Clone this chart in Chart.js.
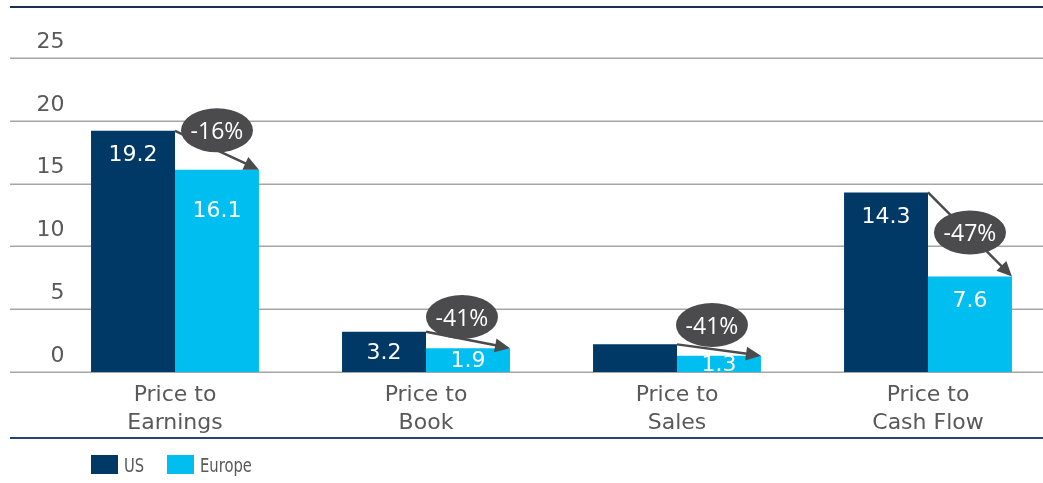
<!DOCTYPE html>
<html>
<head>
<meta charset="utf-8">
<script src="https://cdn.jsdelivr.net/npm/chart.js@4.4.1/dist/chart.umd.min.js"></script>
<style>
  html, body { margin: 0; padding: 0; background: #ffffff; overflow: hidden; }
  #wrap { position: relative; width: 1043px; height: 483px; }
  #chart { position: absolute; left: 0; top: 0; }
  .leg { position: absolute; top: 455px; display: flex; align-items: center; height: 19px;
         font-family: "Liberation Sans Narrow", "DejaVu Sans Condensed", "Liberation Sans", sans-serif;
         font-size: 20px; color: #595959; }
  .leg .box { width: 27px; height: 19px; margin-right: 6px; flex: none; }
  .leg .txt { display: inline-block; transform: scaleX(0.82); transform-origin: left center; }
</style>
</head>
<body>
<div id="wrap">
  <canvas id="chart" width="1043" height="483"></canvas>
  <div class="leg" style="left:91px"><span class="box" style="background:#003966"></span><span class="txt">US</span></div>
  <div class="leg" style="left:167px"><span class="box" style="background:#00BEF0"></span><span class="txt">Europe</span></div>
</div>
<script>
// ---- data ----
const categories = [["Price to", "Earnings"], ["Price to", "Book"], ["Price to", "Sales"], ["Price to", "Cash Flow"]];
const seriesNames = ["US", "Europe"];
const usValues = [19.2, 3.2, 2.2, 14.3];
const europeValues = [16.1, 1.9, 1.3, 7.6];
const usLabels = ["19.2", "3.2", null, "14.3"];
const europeLabels = ["16.1", "1.9", "1.3", "7.6"];
const changeLabels = ["-16%", "-41%", "-41%", "-47%"];
const yTicks = [0, 5, 10, 15, 20, 25];

// ---- styles / annotation placement ----
const NAVY = "#003966";
const CYAN = "#00BEF0";
const GREY_TXT = "#595959";
const FONT = "'DejaVu Sans', 'Open Sans', sans-serif";
const BUBBLE_FONT = "'Open Sans', 'DejaVu Sans', sans-serif";
const BUBBLE_OFFSETS = [{ dx: 0, dy: -18 }, { dx: -6, dy: -21 }, { dx: -7, dy: -23 }, { dx: 0, dy: 0 }];
const LABEL_SHIFT_US = [0, 0, 0, 0];
const LABEL_SHIFT_EU = [17, 0, 0, 0];

const decor = {
  id: "decor",
  beforeDatasetsDraw(chart) {
    const ctx = chart.ctx, y = chart.scales.y, W = chart.width;
    ctx.save();
    ctx.strokeStyle = "#a6a6a6";
    ctx.lineWidth = 1.5;
    yTicks.forEach(v => {
      const py = Math.round(y.getPixelForValue(v)) + 0.25;
      ctx.beginPath(); ctx.moveTo(10, py); ctx.lineTo(W, py); ctx.stroke();
    });
    ctx.lineWidth = 2;
    ctx.strokeStyle = "#1c2e52";
    ctx.beginPath(); ctx.moveTo(10, 7); ctx.lineTo(W, 7); ctx.stroke();
    ctx.strokeStyle = "#24466e";
    ctx.beginPath(); ctx.moveTo(10, 438); ctx.lineTo(W, 438); ctx.stroke();
    ctx.restore();
  },
  afterDatasetsDraw(chart) {
    const ctx = chart.ctx, area = chart.chartArea;
    const m0 = chart.getDatasetMeta(0), m1 = chart.getDatasetMeta(1);
    ctx.save();
    ctx.save();
    ctx.beginPath(); ctx.rect(0, area.top - 40, chart.width, area.bottom - area.top + 40); ctx.clip();
    ctx.fillStyle = "#ffffff";
    ctx.font = "22px " + FONT;
    ctx.textAlign = "center"; ctx.textBaseline = "middle";
    [[m0, usLabels, LABEL_SHIFT_US], [m1, europeLabels, LABEL_SHIFT_EU]].forEach(([meta, labels, shift]) => {
      meta.data.forEach((bar, i) => {
        if (!labels[i]) return;
        const ly = Math.min(bar.y + 23.5, (bar.y + bar.base) / 2) + shift[i];
        ctx.fillText(labels[i], bar.x, ly + 1);
      });
    });
    ctx.restore();
    m0.data.forEach((b0, i) => {
      const b1 = m1.data[i];
      const x0 = b0.x + b0.width / 2, y0 = b0.y;
      const x1 = b1.x + b1.width / 2, y1 = b1.y;
      const ang = Math.atan2(y1 - y0, x1 - x0);
      const headLen = 15, headW = 7;
      ctx.strokeStyle = "#4b4b4d"; ctx.fillStyle = "#4b4b4d";
      ctx.lineWidth = 2.5;
      ctx.beginPath();
      ctx.moveTo(x0, y0);
      ctx.lineTo(x1 - Math.cos(ang) * headLen * 0.8, y1 - Math.sin(ang) * headLen * 0.8);
      ctx.stroke();
      ctx.beginPath();
      ctx.moveTo(x1, y1);
      ctx.lineTo(x1 - Math.cos(ang) * headLen + Math.sin(ang) * headW, y1 - Math.sin(ang) * headLen - Math.cos(ang) * headW);
      ctx.lineTo(x1 - Math.cos(ang) * headLen - Math.sin(ang) * headW, y1 - Math.sin(ang) * headLen + Math.cos(ang) * headW);
      ctx.closePath(); ctx.fill();
      const off = BUBBLE_OFFSETS[i];
      const cx = (x0 + x1) / 2 + off.dx, cy = (y0 + y1) / 2 + off.dy;
      ctx.beginPath();
      ctx.ellipse(cx, cy - 2, 36, 22, 0, 0, Math.PI * 2);
      ctx.fill();
      ctx.fillStyle = "#ffffff";
      ctx.font = "23px " + BUBBLE_FONT;
      ctx.textAlign = "center"; ctx.textBaseline = "middle";
      ctx.fillText(changeLabels[i], cx, cy);
    });
    ctx.restore();
  }
};

new Chart(document.getElementById("chart"), {
  type: "bar",
  data: {
    labels: categories,
    datasets: [
      { label: seriesNames[0], data: usValues, backgroundColor: NAVY, borderWidth: 0, clip: false },
      { label: seriesNames[1], data: europeValues, backgroundColor: CYAN, borderWidth: 0, clip: false }
    ]
  },
  options: {
    responsive: false,
    devicePixelRatio: 1,
    animation: false,
    layout: { padding: { left: 0, right: 115, top: 58, bottom: 0 } },
    datasets: { bar: { categoryPercentage: 0.669, barPercentage: 1.0 } },
    scales: {
      x: {
        offset: false,
        grid: { display: false, drawTicks: false },
        border: { display: false },
        ticks: { color: GREY_TXT, font: { family: FONT, size: 22, lineHeight: 1.25 }, padding: 10, maxRotation: 0, autoSkip: false },
        afterFit: s => { s.height = 111; }
      },
      y: {
        min: 0, max: 25,
        grid: { display: false, drawTicks: true, tickLength: 110.5 },
        border: { display: false },
        afterBuildTicks: s => { s.ticks = yTicks.map(v => ({ value: v })); },
        ticks: { color: GREY_TXT, font: { family: FONT, size: 22 }, padding: 0, labelOffset: -16 },
        afterFit: s => { s.width = 175; }
      }
    },
    plugins: {
      legend: { display: false },
      tooltip: { enabled: false }
    }
  },
  plugins: [decor]
});
</script>
</body>
</html>
